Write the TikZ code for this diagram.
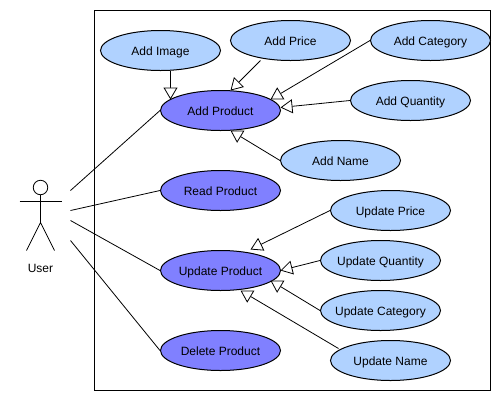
\documentclass[tikz,border=0pt]{standalone}
\usepackage{fontspec}
\setmainfont{Liberation Sans}
\usetikzlibrary{arrows.meta,shapes.geometric}
\definecolor{lightuc}{HTML}{B0D2FF}
\definecolor{darkuc}{HTML}{8080FF}
\tikzset{
  usecase/.style={ellipse,draw=black,line width=1pt,minimum width=120pt,minimum height=40pt,inner xsep=-30pt,inner ysep=0pt,text height=9pt,text depth=0pt,font=\fontsize{12}{14}\selectfont,text=black},
  sub/.style={usecase,fill=lightuc},
  main/.style={usecase,fill=darkuc},
  assoc/.style={draw=black,line width=0.8pt},
  gen/.style={draw=black,line width=0.8pt,-{Triangle[open,fill=white,length=12pt,width=14pt]}},
  stick/.style={draw=black,line width=0.8pt}
}
\begin{document}
\begin{tikzpicture}[x=1pt,y=-1pt]
\useasboundingbox (0,0) rectangle (504,400);
\draw[black,line width=1pt] (94.5,10.5) rectangle (490.5,390.5);
% use cases
\node[main] (addp) at (220.5,110.5) {Add Product};
\node[main] (readp) at (220.5,190.5) {Read Product};
\node[main] (updp) at (220.5,270.5) {Update Product};
\node[main] (delp) at (220.5,350.5) {Delete Product};
\node[sub] (aimg) at (160.5,50.5) {Add Image};
\node[sub] (aprice) at (290.5,40.5) {Add Price};
\node[sub] (acat) at (430.5,40.5) {Add Category};
\node[sub] (aqty) at (410.5,100.5) {Add Quantity};
\node[sub] (aname) at (340.5,160.5) {Add Name};
\node[sub] (uprice) at (390.5,210.5) {Update Price};
\node[sub] (uqty) at (380.5,260.5) {Update Quantity};
\node[sub] (ucat) at (380.5,310.5) {Update Category};
\node[sub] (uname) at (390.5,360.5) {Update Name};
% actor
\node[circle,stick,minimum size=14.5pt,inner sep=0pt] (head) at (40.5,187.5) {};
\coordinate (hip) at (40.5,222.5);
\coordinate (armL) at (19.5,201.5);
\coordinate (armR) at (61.5,201.5);
\coordinate (legL) at (26.5,250.5);
\coordinate (legR) at (54.5,250.5);
\draw[stick] (head.south) -- (hip);
\draw[stick] (armL) -- (armR);
\draw[stick] (legL) -- (hip) -- (legR);
\node[font=\fontsize{12}{14}\selectfont,text=black] (user) at (40.5,268) {User};
% associations
\coordinate (a1) at (70.5,190.5);
\coordinate (a2) at (70.5,210.5);
\coordinate (a3) at (70.5,220.5);
\coordinate (a4) at (70.5,240.5);
\draw[assoc] (a1) -- (addp.west);
\draw[assoc] (a2) -- (readp.west);
\draw[assoc] (a3) -- (updp.west);
\draw[assoc] (a4) -- (delp.west);
% generalisations
\draw[gen] ([shift={(10,20)}]aimg.center) -- ([shift={(-50,-11)}]addp.center);
\draw[gen] ([shift={(-30,20)}]aprice.center) -- ([shift={(10,-20)}]addp.center);
\draw[gen] (acat.west) -- ([shift={(50,-11)}]addp.center);
\draw[gen] (aqty.west) -- ([shift={(60,-3)}]addp.center);
\draw[gen] (aname.west) -- ([shift={(10,20)}]addp.center);
\draw[gen] (uprice.west) -- ([shift={(30,-21)}]updp.center);
\draw[gen] (uqty.west) -- ([shift={(60,0)}]updp.center);
\draw[gen] (ucat.west) -- ([shift={(50,10)}]updp.center);
\draw[gen] ([shift={(-52,-12)}]uname.center) -- ([shift={(20,20)}]updp.center);
\end{tikzpicture}
\end{document}
